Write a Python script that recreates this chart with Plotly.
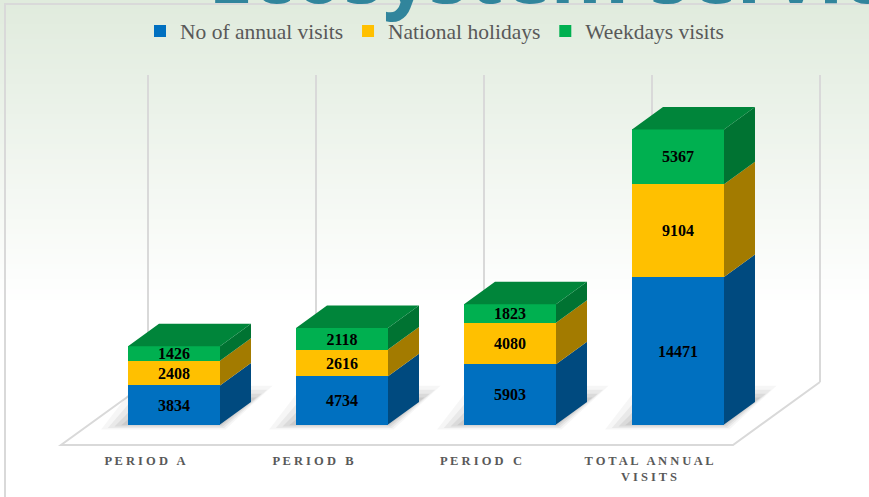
import plotly.graph_objects as go

# ---------------- data ----------------
categories = ["PERIOD A", "PERIOD B", "PERIOD C", "TOTAL ANNUAL<br>VISITS"]
series_names = ["No of annual visits", "National holidays", "Weekdays visits"]
annual_visits = [3834, 4734, 5903, 14471]
national_holidays = [2408, 2616, 4080, 9104]
weekdays_visits = [1426, 2118, 1823, 5367]

front_colors = ["#0070C0", "#FFC000", "#00B050"]
side_colors = ["#004A7F", "#A37B00", "#007332"]
top_color = "#00853A"

# ---------------- geometry (in axis units) ----------------
W, H = 869, 497
MB = 46                      # bottom margin for category labels
PX_PER_CAT = 168.0
VAL_PER_PX = 98.1
X0_PX = 174.0                # pixel of first category centre
Y0_PX = 424.5                # pixel of value 0
BAR_W = 92 / PX_PER_CAT
DX = 31 / PX_PER_CAT         # depth offset (x)
DY = 22.5 * VAL_PER_PX       # depth offset (value)

x_range = [-X0_PX / PX_PER_CAT, (W - X0_PX) / PX_PER_CAT]
y_range = [(Y0_PX - (H - MB)) * VAL_PER_PX, Y0_PX * VAL_PER_PX]

n = len(categories)
xs = list(range(n))
series = [annual_visits, national_holidays, weekdays_visits]

FLOOR_FRONT_V = -20.5 * VAL_PER_PX
FLOOR_BACK_V = 42.5 * VAL_PER_PX
FRONT_SHIFT = -29 / PX_PER_CAT
BACK_SHIFT = 58 / PX_PER_CAT
WALL_TOP_V = 349.5 * VAL_PER_PX


def spaced(label):
    lines = []
    for line in label.split("<br>"):
        words = [" ".join(list(w)) for w in line.split(" ")]
        lines.append(" \u00a0 ".join(words))
    return "<br>".join(lines)


def poly_path(px, py):
    pts = ["%s%.5f,%.3f" % ("M" if k == 0 else "L", x, y) for k, (x, y) in enumerate(zip(px, py))]
    return " ".join(pts) + " Z"


fig = go.Figure()
shapes = []

# background gradient (top greenish fading to white)
steps = 60
top_c = (224, 235, 221)
PH = H - MB
for k in range(steps):
    t = k / steps
    c = tuple(int(round(top_c[i] + (255 - top_c[i]) * t)) for i in range(3))
    y_top = 1 - (k * 300 / steps) / PH
    y_bot = 1 - ((k + 1) * 300 / steps) / PH
    shapes.append(dict(type="rect", xref="paper", yref="paper", x0=0, x1=1,
                       y0=y_bot, y1=y_top + 0.002, fillcolor="rgb(%d,%d,%d)" % c,
                       line=dict(width=0), layer="below"))

# back wall vertical gridlines
for k in range(n + 1):
    gx = -0.5 + BACK_SHIFT + k
    shapes.append(dict(type="line", x0=gx, x1=gx, y0=FLOOR_BACK_V, y1=WALL_TOP_V,
                       line=dict(color="#D9D9D9", width=2), layer="below"))

# floor
fl = [-0.5 + FRONT_SHIFT, n - 0.5 + FRONT_SHIFT]
bl = [-0.5 + BACK_SHIFT, n - 0.5 + BACK_SHIFT]
shapes.append(dict(type="path", layer="below",
                   path=poly_path([fl[0], fl[1], bl[1], bl[0]],
                                  [FLOOR_FRONT_V, FLOOR_FRONT_V, FLOOR_BACK_V, FLOOR_BACK_V]),
                   fillcolor="white", line=dict(width=0)))
shapes.append(dict(type="path", layer="below",
                   path="M%.5f,%.3f L%.5f,%.3f L%.5f,%.3f L%.5f,%.3f" % (
                       bl[0], FLOOR_BACK_V, fl[0], FLOOR_FRONT_V,
                       fl[1], FLOOR_FRONT_V, bl[1], FLOOR_BACK_V),
                   line=dict(color="#D9D9D9", width=2)))

# soft shadows around bar footprints (cast mostly to the left / back)
for ex, eb, ef, a in [(0.16, 1600, 500, 0.05), (0.12, 1200, 350, 0.07),
                      (0.08, 800, 200, 0.09), (0.04, 450, 80, 0.11)]:
    for i in xs:
        xl, xr = i - BAR_W / 2, i + BAR_W / 2
        shapes.append(dict(type="path", layer="below",
                           path=poly_path([xl - ex, xr + ex * 0.2, xr + DX + ex * 0.8, xl + DX - ex * 0.9],
                                          [-ef, -ef, DY + eb, DY + eb]),
                           fillcolor="rgba(70,70,70,%.3f)" % a, line=dict(width=0)))

# chart border (left/top visible)
shapes.append(dict(type="rect", xref="paper", yref="paper",
                   x0=5 / W, x1=1.2, y0=-0.3, y1=1 - 4 / PH,
                   line=dict(color="#D9D9D9", width=2), fillcolor="rgba(0,0,0,0)",
                   layer="above"))

# stacked front faces + side faces
base = [0] * n
for j, (name, vals) in enumerate(zip(series_names, series)):
    fig.add_trace(go.Bar(
        x=xs, y=vals, width=BAR_W, name=name,
        marker=dict(color=front_colors[j], line=dict(width=0)),
        text=[str(v) for v in vals], texttemplate="<b>%{text}</b>", textposition="inside",
        insidetextanchor="middle", constraintext="none",
        textfont=dict(family="Liberation Serif", size=16, color="black"),
        hoverinfo="skip"))
    sx, sy = [], []
    for i in xs:
        xr = i + BAR_W / 2
        b, t = base[i], base[i] + vals[i]
        sx += [xr, xr + DX, xr + DX, xr, xr, None]
        sy += [b, b + DY, t + DY, t, b, None]
    fig.add_trace(go.Scatter(x=sx, y=sy, fill="toself", fillcolor=side_colors[j],
                             mode="none", showlegend=False, hoverinfo="skip"))
    base = [base[i] + vals[i] for i in xs]

# top faces
tx, ty = [], []
for i in xs:
    xl, xr = i - BAR_W / 2, i + BAR_W / 2
    T = base[i]
    tx += [xl, xr, xr + DX, xl + DX, xl, None]
    ty += [T, T, T + DY, T + DY, T, None]
fig.add_trace(go.Scatter(x=tx, y=ty, fill="toself", fillcolor=top_color,
                         mode="none", showlegend=False, hoverinfo="skip"))

# clipped big title at the very top
fig.add_annotation(text="<b>Ecosystem services</b>", xref="paper", yref="paper",
                   x=206 / W, y=1, xanchor="left", yanchor="bottom", yshift=-28,
                   showarrow=False,
                   font=dict(family="Open Sans", size=80, color="#31859C"))

fig.update_layout(
    width=W, height=H, autosize=False,
    margin=dict(l=0, r=0, t=0, b=MB),
    paper_bgcolor="white", plot_bgcolor="rgba(0,0,0,0)",
    barmode="stack", bargap=0,
    shapes=shapes,
    showlegend=True,
    legend=dict(orientation="h", x=140 / W, xanchor="left",
                y=1 - 31 / PH, yanchor="middle",
                bgcolor="rgba(0,0,0,0)",
                font=dict(family="Liberation Serif", size=21.5, color="#595959"),
                traceorder="normal"),
    xaxis=dict(range=x_range, showgrid=False, zeroline=False, showline=False,
               tickmode="array", tickvals=[x + FRONT_SHIFT for x in xs],
               ticktext=["<b>%s</b>" % spaced(c) for c in categories],
               tickfont=dict(family="Liberation Serif", size=12.5, color="#595959"),
               ticks="", fixedrange=True),
    yaxis=dict(range=y_range, showgrid=False, zeroline=False, showline=False,
               showticklabels=False, ticks="", fixedrange=True),
)

fig.write_html("out.html", config={"displayModeBar": False},
               post_script="document.body.style.margin='0px';document.body.style.overflow='hidden';")
